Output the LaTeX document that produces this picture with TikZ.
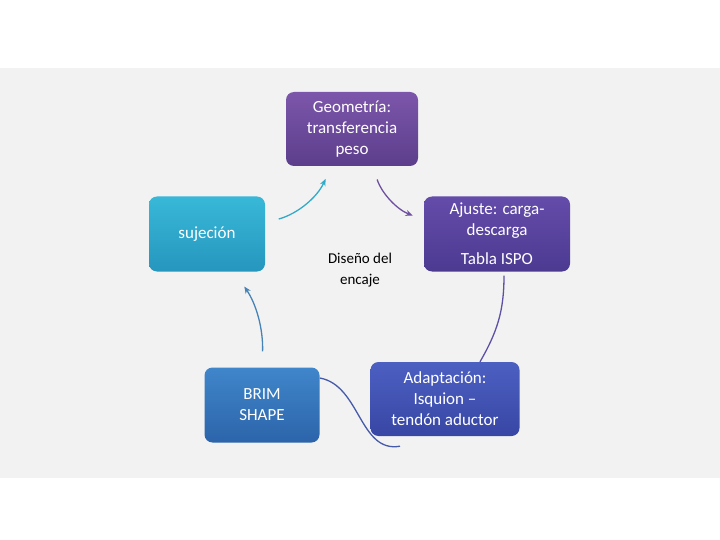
\documentclass[tikz,border=0pt]{standalone}
\usepackage{fontspec}
\setmainfont{Carlito}
\usetikzlibrary{arrows.meta}
\pgfdeclarelayer{bg}
\pgfdeclarelayer{lines}
\pgfsetlayers{bg,lines,main}
\definecolor{band}{HTML}{F2F2F2}
\tikzset{
  box/.style={rectangle, rounded corners=8pt, text=white, align=center,
    font=\fontsize{17}{21}\selectfont, inner sep=2pt},
  link/.style={line width=1.3pt, -{Stealth[length=7pt,width=6pt]}},
  plain/.style={line width=1.3pt}
}
\begin{document}
\begin{tikzpicture}[x=1pt, y=-1pt]
\useasboundingbox (0,0) rectangle (720,540);
\begin{pgfonlayer}{bg}
\fill[band] (0,68) rectangle (720,478);
\end{pgfonlayer}

\node at (352,129) [box, minimum width=132pt, minimum height=74pt, top color={rgb,255:red,124;green,86;blue,170}, bottom color={rgb,255:red,92;green,62;blue,140}] (geo) {Geometría:\\transferencia\\peso};
\node at (497,234) [box, minimum width=146pt, minimum height=75pt, top color={rgb,255:red,100;green,76;blue,170}, bottom color={rgb,255:red,76;green,58;blue,145}] (aju) {Ajuste: carga-\\descarga\\[8pt]Tabla ISPO};
\node at (207,234) [box, minimum width=116pt, minimum height=75pt, top color={rgb,255:red,56;green,184;blue,216}, bottom color={rgb,255:red,38;green,150;blue,190}] (suj) {sujeción};
\node at (262,405) [box, minimum width=115pt, minimum height=75pt, top color={rgb,255:red,64;green,134;blue,202}, bottom color={rgb,255:red,44;green,100;blue,170}] (brim) {BRIM\\SHAPE};
\node at (445,399) [box, minimum width=149pt, minimum height=74pt, top color={rgb,255:red,76;green,96;blue,194}, bottom color={rgb,255:red,56;green,70;blue,164}] (adap) {Adaptación:\\Isquion --\\tendón aductor};
\node at (360,270) [align=center, font=\fontsize{15}{21}\selectfont] (dis) {Diseño del\\encaje};

\begin{pgfonlayer}{lines}
\draw[link, color={rgb,255:red,110;green,80;blue,160}, shorten <=14pt, shorten >=12pt] (geo) to[bend right=25] (aju);
\draw[plain, color={rgb,255:red,95;green,80;blue,165}] ([xshift=7pt,yshift=-4pt]aju.south) to[out=-90, in=60] ([xshift=35pt]adap.north);
\draw[plain, color={rgb,255:red,70;green,90;blue,170}] ([xshift=-45pt,yshift=-10pt]adap.south) to[out=-170, in=-10] ([yshift=27pt]brim.east);
\draw[link, color={rgb,255:red,70;green,130;blue,180}, shorten <=16pt, shorten >=18pt] (brim) to[bend right=18] (suj);
\draw[link, color={rgb,255:red,50;green,170;blue,200}, shorten <=14pt, shorten >=14pt] (suj) to[bend right=25] (geo);
\end{pgfonlayer}
\end{tikzpicture}
\end{document}
